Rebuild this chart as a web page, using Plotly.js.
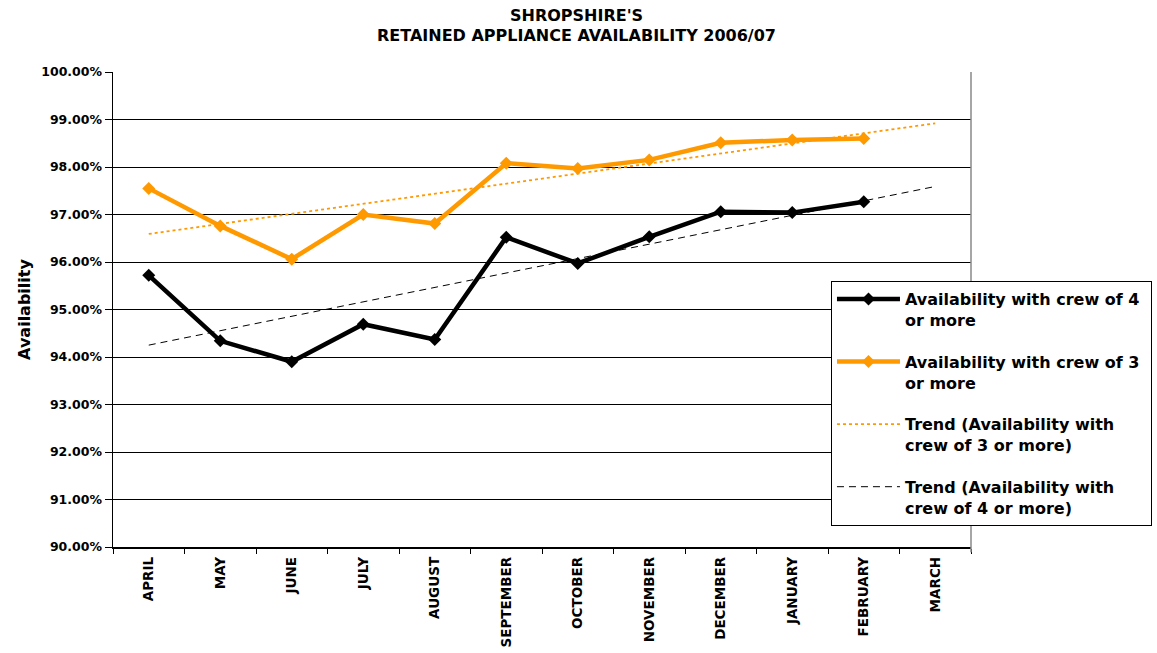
<!DOCTYPE html>
<html>
<head>
<meta charset="utf-8">
<script src="https://cdn.plot.ly/plotly-3.0.1.min.js"></script>
<style>html,body{margin:0;padding:0;background:#fff;}#chart{width:1157px;height:653px;}</style>
</head>
<body>
<div id="chart"></div>
<script>
const months = ['APRIL','MAY','JUNE','JULY','AUGUST','SEPTEMBER','OCTOBER','NOVEMBER','DECEMBER','JANUARY','FEBRUARY','MARCH'];
const crew4 = [95.72, 94.34, 93.90, 94.69, 94.37, 96.52, 95.97, 96.53, 97.06, 97.04, 97.27];
const crew3 = [97.55, 96.76, 96.06, 97.00, 96.81, 98.08, 97.97, 98.15, 98.51, 98.57, 98.60];
const trendMonths = ['APRIL','MARCH'];
const trend3 = [96.59, 98.92];
const trend4 = [94.25, 97.59];
const yTicks = [90,91,92,93,94,95,96,97,98,99,100];
const titleLines = ["SHROPSHIRE'S", 'RETAINED APPLIANCE AVAILABILITY 2006/07'];

const FONT = 'DejaVu Sans, Verdana, sans-serif';

const traces = [
  {x: months.slice(0, crew4.length), y: crew4, type: 'scatter', mode: 'lines+markers',
   name: 'Availability with crew of 4&nbsp;<br>or more', legendgroup: 'a',
   line: {color: '#000000', width: 4.5}, marker: {symbol: 'diamond', size: 10, color: '#000000'}},
  {x: months.slice(0, crew3.length), y: crew3, type: 'scatter', mode: 'lines+markers',
   name: 'Availability with crew of 3<br>or more', legendgroup: 'b',
   line: {color: '#FF9900', width: 4.5}, marker: {symbol: 'diamond', size: 10, color: '#FF9900'}},
  {x: trendMonths, y: trend3, type: 'scatter', mode: 'lines',
   name: 'Trend (Availability with<br>crew of 3 or more)', legendgroup: 'c',
   line: {color: '#FF9900', width: 1.8, dash: '3px,3px'}},
  {x: trendMonths, y: trend4, type: 'scatter', mode: 'lines',
   name: 'Trend (Availability with<br>crew of 4 or more)', legendgroup: 'd',
   line: {color: '#000000', width: 1, dash: '7px,5px'}}
];

const layout = {
  width: 1157, height: 653,
  margin: {l: 113, r: 186, t: 72, b: 106, autoexpand: false},
  paper_bgcolor: '#ffffff', plot_bgcolor: '#ffffff',
  font: {family: FONT, color: '#000000'},
  annotations: [
    {text: titleLines[0], xref: 'paper', yref: 'paper', x: 0.540, y: (547 - 15.5) / 475,
     xanchor: 'center', yanchor: 'middle', showarrow: false,
     font: {family: FONT, size: 16, weight: 'bold', color: '#000'}},
    {text: titleLines[1], xref: 'paper', yref: 'paper', x: 0.540, y: (547 - 35) / 475,
     xanchor: 'center', yanchor: 'middle', showarrow: false,
     font: {family: FONT, size: 16, weight: 'bold', color: '#000'}}
  ],
  xaxis: {
    type: 'category', categoryorder: 'array', categoryarray: months,
    range: [-0.5, 11.5], tickson: 'boundaries', ticks: 'outside', ticklen: 5,
    tickcolor: '#000', tickangle: -90, ticklabelstandoff: 3,
    tickfont: {family: FONT, size: 13.5, weight: 'bold', color: '#000'},
    showline: true, linecolor: '#000', linewidth: 1.5, showgrid: false,
    zeroline: false, fixedrange: true, automargin: false
  },
  yaxis: {
    range: [90, 100], tickvals: yTicks, ticktext: yTicks.map(v => v.toFixed(2) + '%'),
    ticks: 'outside', ticklen: 7, tickcolor: '#000',
    tickfont: {family: FONT, size: 12.5, weight: 'bold', color: '#000'},
    showline: true, linecolor: '#000', linewidth: 1.5,
    showgrid: true, gridcolor: '#000', gridwidth: 1, zeroline: false,
    title: {text: 'Availability', font: {family: FONT, size: 16, weight: 'bold', color: '#000'}, standoff: 6},
    fixedrange: true, automargin: false
  },
  shapes: [
    {type: 'line', xref: 'paper', yref: 'paper', x0: 1, x1: 1, y0: -0.011, y1: 1,
     line: {color: '#888888', width: 1.5}}
  ],
  showlegend: true,
  legend: {
    x: 0.8368, y: (547 - 281) / 475, xanchor: 'left', yanchor: 'top',
    bgcolor: '#ffffff', bordercolor: '#000', borderwidth: 1,
    font: {family: FONT, size: 16, weight: 'bold', color: '#000'},
    traceorder: 'grouped', tracegroupgap: 18, itemwidth: 63, valign: 'top'
  }
};

Plotly.newPlot('chart', traces, layout, {staticPlot: true});
</script>
</body>
</html>
